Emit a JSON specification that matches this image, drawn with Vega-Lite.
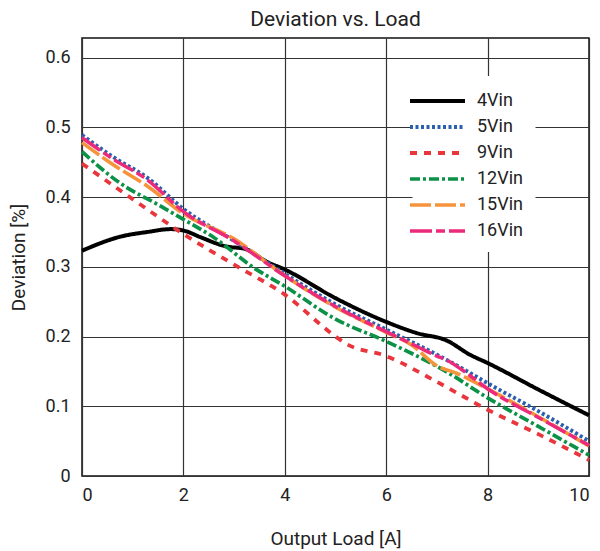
{
  "$schema": "https://vega.github.io/schema/vega-lite/v6.json",
  "width": 507,
  "height": 438,
  "autosize": {"type": "none"},
  "padding": {"left": 82, "top": 38, "right": 11, "bottom": 75},
  "background": "white",
  "title": {"text": "Deviation vs. Load", "fontSize": 21, "font": "Roboto", "fontWeight": "normal", "color": "#222", "offset": 8, "anchor": "middle"},
  "config": {
    "view": {"stroke": "#111", "strokeWidth": 1.5},
    "axis": {"labelFont": "Roboto", "titleFont": "Roboto", "labelFontSize": 18, "titleFontSize": 19, "titleFontWeight": "normal", "labelColor": "#222", "titleColor": "#222", "gridColor": "#333", "gridWidth": 1.2, "gridOpacity": 1, "domain": false, "ticks": false}
  },
  "data": {"values": [
    {"load": 0, "dev": 0.323, "series": "4Vin"},
    {"load": 0.75, "dev": 0.343, "series": "4Vin"},
    {"load": 1.3, "dev": 0.35, "series": "4Vin"},
    {"load": 1.75, "dev": 0.354, "series": "4Vin"},
    {"load": 2.0, "dev": 0.352, "series": "4Vin"},
    {"load": 2.35, "dev": 0.342, "series": "4Vin"},
    {"load": 2.85, "dev": 0.329, "series": "4Vin"},
    {"load": 3.2, "dev": 0.326, "series": "4Vin"},
    {"load": 3.65, "dev": 0.307, "series": "4Vin"},
    {"load": 4, "dev": 0.296, "series": "4Vin"},
    {"load": 5, "dev": 0.255, "series": "4Vin"},
    {"load": 6, "dev": 0.221, "series": "4Vin"},
    {"load": 6.6, "dev": 0.205, "series": "4Vin"},
    {"load": 7.2, "dev": 0.194, "series": "4Vin"},
    {"load": 7.65, "dev": 0.174, "series": "4Vin"},
    {"load": 8, "dev": 0.162, "series": "4Vin"},
    {"load": 9, "dev": 0.124, "series": "4Vin"},
    {"load": 10, "dev": 0.087, "series": "4Vin"},

    {"load": 0, "dev": 0.489, "series": "5Vin"},
    {"load": 0.6, "dev": 0.458, "series": "5Vin"},
    {"load": 1.3, "dev": 0.427, "series": "5Vin"},
    {"load": 2, "dev": 0.383, "series": "5Vin"},
    {"load": 3.05, "dev": 0.335, "series": "5Vin"},
    {"load": 4, "dev": 0.29, "series": "5Vin"},
    {"load": 5, "dev": 0.246, "series": "5Vin"},
    {"load": 6, "dev": 0.21, "series": "5Vin"},
    {"load": 7, "dev": 0.174, "series": "5Vin"},
    {"load": 7.6, "dev": 0.15, "series": "5Vin"},
    {"load": 8, "dev": 0.133, "series": "5Vin"},
    {"load": 9, "dev": 0.093, "series": "5Vin"},
    {"load": 10, "dev": 0.05, "series": "5Vin"},

    {"load": 0, "dev": 0.448, "series": "9Vin"},
    {"load": 1, "dev": 0.397, "series": "9Vin"},
    {"load": 2, "dev": 0.347, "series": "9Vin"},
    {"load": 3, "dev": 0.303, "series": "9Vin"},
    {"load": 4, "dev": 0.26, "series": "9Vin"},
    {"load": 5, "dev": 0.2, "series": "9Vin"},
    {"load": 5.2, "dev": 0.19, "series": "9Vin"},
    {"load": 6, "dev": 0.172, "series": "9Vin"},
    {"load": 7, "dev": 0.135, "series": "9Vin"},
    {"load": 8, "dev": 0.095, "series": "9Vin"},
    {"load": 9, "dev": 0.06, "series": "9Vin"},
    {"load": 10, "dev": 0.023, "series": "9Vin"},

    {"load": 0, "dev": 0.465, "series": "12Vin"},
    {"load": 0.75, "dev": 0.42, "series": "12Vin"},
    {"load": 1.5, "dev": 0.389, "series": "12Vin"},
    {"load": 2, "dev": 0.368, "series": "12Vin"},
    {"load": 2.6, "dev": 0.342, "series": "12Vin"},
    {"load": 3.4, "dev": 0.298, "series": "12Vin"},
    {"load": 4, "dev": 0.272, "series": "12Vin"},
    {"load": 5, "dev": 0.225, "series": "12Vin"},
    {"load": 6, "dev": 0.193, "series": "12Vin"},
    {"load": 7.2, "dev": 0.149, "series": "12Vin"},
    {"load": 8, "dev": 0.112, "series": "12Vin"},
    {"load": 9, "dev": 0.071, "series": "12Vin"},
    {"load": 10, "dev": 0.03, "series": "12Vin"},

    {"load": 0, "dev": 0.478, "series": "15Vin"},
    {"load": 0.6, "dev": 0.447, "series": "15Vin"},
    {"load": 1.3, "dev": 0.415, "series": "15Vin"},
    {"load": 2, "dev": 0.376, "series": "15Vin"},
    {"load": 3, "dev": 0.34, "series": "15Vin"},
    {"load": 4, "dev": 0.287, "series": "15Vin"},
    {"load": 5, "dev": 0.242, "series": "15Vin"},
    {"load": 6, "dev": 0.206, "series": "15Vin"},
    {"load": 6.5, "dev": 0.188, "series": "15Vin"},
    {"load": 7, "dev": 0.158, "series": "15Vin"},
    {"load": 7.4, "dev": 0.147, "series": "15Vin"},
    {"load": 8, "dev": 0.125, "series": "15Vin"},
    {"load": 9, "dev": 0.085, "series": "15Vin"},
    {"load": 10, "dev": 0.043, "series": "15Vin"},

    {"load": 0, "dev": 0.485, "series": "16Vin"},
    {"load": 0.6, "dev": 0.455, "series": "16Vin"},
    {"load": 1.3, "dev": 0.424, "series": "16Vin"},
    {"load": 2, "dev": 0.379, "series": "16Vin"},
    {"load": 3, "dev": 0.337, "series": "16Vin"},
    {"load": 4, "dev": 0.287, "series": "16Vin"},
    {"load": 5, "dev": 0.243, "series": "16Vin"},
    {"load": 6, "dev": 0.207, "series": "16Vin"},
    {"load": 6.6, "dev": 0.186, "series": "16Vin"},
    {"load": 7.0, "dev": 0.172, "series": "16Vin"},
    {"load": 7.2, "dev": 0.166, "series": "16Vin"},
    {"load": 7.5, "dev": 0.152, "series": "16Vin"},
    {"load": 8, "dev": 0.125, "series": "16Vin"},
    {"load": 9, "dev": 0.084, "series": "16Vin"},
    {"load": 10, "dev": 0.044, "series": "16Vin"}
  ]},
  "mark": {"type": "line", "interpolate": "monotone", "strokeCap": "butt"},
  "encoding": {
    "x": {"field": "load", "type": "quantitative", "scale": {"domain": [0, 10], "nice": false},
      "axis": {"values": [0, 2, 4, 6, 8, 10], "title": "Output Load [A]", "labelPadding": 10, "titleX": 253.5, "titleY": 62, "titleBaseline": "middle"}},
    "y": {"field": "dev", "type": "quantitative", "scale": {"domain": [0, 0.628], "nice": false, "zero": true},
      "axis": {"values": [0, 0.1, 0.2, 0.3, 0.4, 0.5, 0.6], "format": ".1~f", "title": "Deviation [%]", "labelPadding": 12, "titleX": -64, "titleY": 219, "titleAngle": -90, "titleAlign": "center", "titleBaseline": "middle"}},
    "color": {"field": "series", "type": "nominal",
      "scale": {"domain": ["4Vin", "5Vin", "9Vin", "12Vin", "15Vin", "16Vin"], "range": ["#000000", "#2a5fae", "#e8363c", "#0c9247", "#f6943c", "#ec2a7c"]},
      "legend": {"title": null, "orient": "none", "legendX": 330.5, "legendY": 38, "padding": 12, "fillColor": "white", "symbolType": "M-2.5,0H2.5", "symbolSize": 484, "symbolStrokeWidth": 3.5, "labelOffset": 26.5, "labelFontSize": 18, "labelFont": "Roboto", "labelColor": "#222", "rowPadding": 4}},
    "strokeDash": {"field": "series", "type": "nominal",
      "scale": {"domain": ["4Vin", "5Vin", "9Vin", "12Vin", "15Vin", "16Vin"], "range": [[1, 0], [3, 2.5], [7, 7], [10, 3, 3, 3], [21, 4], [22, 4, 9, 4]]},
      "legend": {"title": null, "orient": "none", "legendX": 330.5, "legendY": 38}},
    "strokeWidth": {"field": "series", "type": "nominal",
      "scale": {"domain": ["4Vin", "5Vin", "9Vin", "12Vin", "15Vin", "16Vin"], "range": [4, 3.5, 3.5, 3.5, 3.5, 3.5]}, "legend": null}
  }
}
